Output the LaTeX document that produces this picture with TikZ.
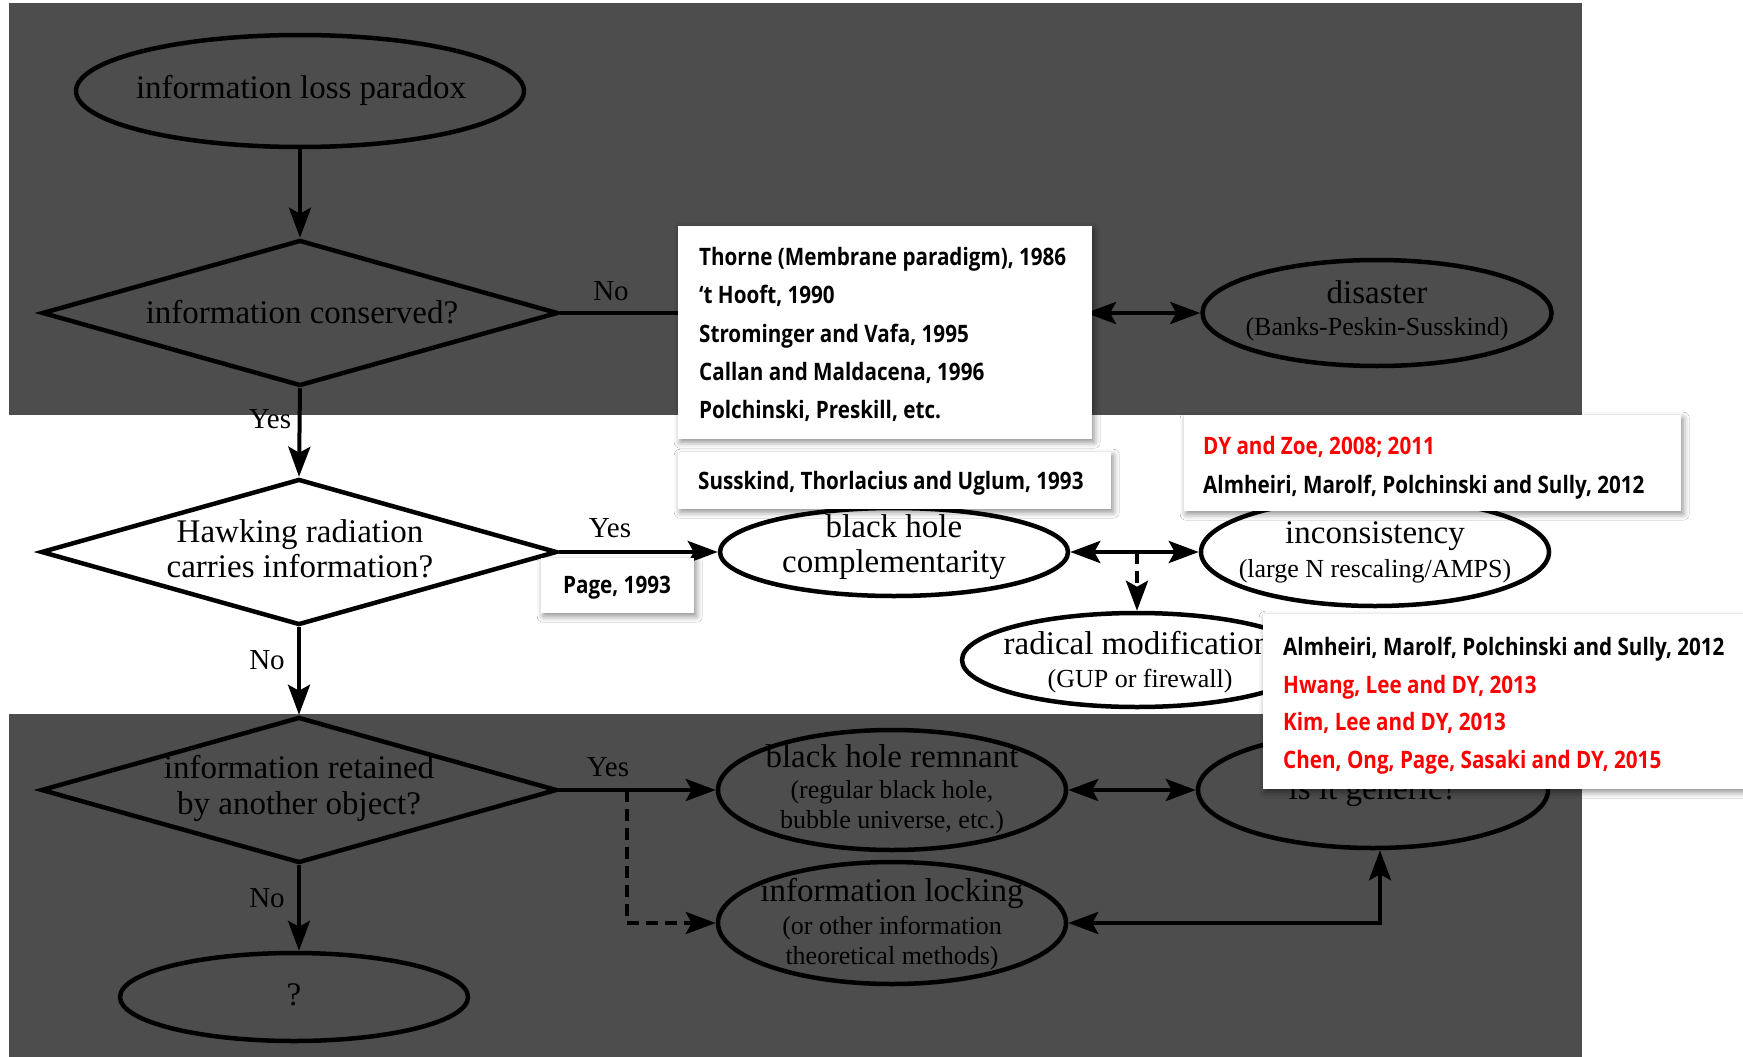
\documentclass[tikz,border=0pt]{standalone}
\usepackage{fontspec}
\setmainfont{Liberation Serif}
\newfontfamily\citefont{Open Sans}[FakeStretch=0.86]
\usetikzlibrary{shapes.geometric, arrows.meta, shadows.blur}
\definecolor{bandgray}{RGB}{77,77,77}
\definecolor{refred}{RGB}{255,0,0}
\newcommand\mainsz{\fontsize{33}{38}\selectfont}
\newcommand\subsz{\fontsize{26}{30}\selectfont}
\newcommand\lblsz{\fontsize{29}{34}\selectfont}
\newcommand\refsz{\citefont\bfseries\fontsize{24}{28}\selectfont}
\begin{document}
\begin{tikzpicture}[x=1pt, y=-1pt,
  flow/.style={line width=4pt},
  arr/.style={flow, -{Stealth[length=30pt, width=22pt, inset=6pt]}},
  darr/.style={flow, {Stealth[length=30pt, width=22pt, inset=6pt]}-{Stealth[length=30pt, width=22pt, inset=6pt]}},
  dashedarr/.style={arr, dash pattern=on 12pt off 7pt},
  ell/.style={ellipse, draw, line width=4.5pt, inner sep=0pt},
  dia/.style={diamond, draw, line width=4.5pt, inner sep=0pt, minimum width=516pt, minimum height=146pt},
  main/.style={font=\mainsz, anchor=base, inner sep=0pt},
  sub/.style={font=\subsz, anchor=base, inner sep=0pt},
  lbl/.style={font=\lblsz, anchor=base, inner sep=0pt},
  refbox/.style={fill=white, inner sep=0pt, anchor=north west,
    blur shadow={shadow xshift=2pt, shadow yshift=-3pt, shadow blur radius=6pt, shadow opacity=45}},
  ref/.style={font=\refsz, anchor=base west, inner sep=0pt},
  refhot/.style={ref, text=refred},
]
\useasboundingbox (0,0) rectangle (1743,1057);
\fill[white] (0,0) rectangle (1743,1057);

% shaded bands
\fill[bandgray] (9,3) rectangle (1582,415);
\fill[bandgray] (9,714) rectangle (1582,1057);

% top row
\node[ell, minimum width=448pt, minimum height=112pt] (loss) at (300,91) {};
\node[main] (loss-t) at (301,99) {information loss paradox};
\node[dia] (cons) at (300,313) {};
\node[main] (cons-t) at (302,323) {information conserved?};
\node[ell, minimum width=349pt, minimum height=106pt] (dis) at (1377,313) {};
\node[main] (dis-t1) at (1377,303) {disaster};
\node[sub] (dis-t2) at (1377,335) {(Banks-Peskin-Susskind)};

% middle row
\node[dia] (hawk) at (299,552) {};
\node[main] (hawk-t1) at (300,542) {Hawking radiation};
\node[main] (hawk-t2) at (300,577) {carries information?};
\node[ell, minimum width=348pt, minimum height=88pt] (comp) at (894,552) {};
\node[main] (comp-t1) at (894,537) {black hole};
\node[main] (comp-t2) at (894,572) {complementarity};
\node[ell, minimum width=348pt, minimum height=108pt] (inc) at (1375,552) {};
\node[main] (inc-t1) at (1375,543) {inconsistency};
\node[sub] (inc-t2) at (1375,577) {(large N rescaling/AMPS)};
\node[ell, minimum width=350pt, minimum height=94pt] (rad) at (1137,660) {};
\node[main] (rad-t1) at (1137,654) {radical modification};
\node[sub] (rad-t2) at (1140,687) {(GUP or firewall)};

% bottom row
\node[dia] (ret) at (299,790) {};
\node[main] (ret-t1) at (299,778) {information retained};
\node[main] (ret-t2) at (299,814) {by another object?};
\node[ell, minimum width=348pt, minimum height=120pt] (rem) at (892,790) {};
\node[main] (rem-t1) at (892,767) {black hole remnant};
\node[sub] (rem-t2) at (892,798) {(regular black hole,};
\node[sub] (rem-t3) at (892,828) {bubble universe, etc.)};
\node[ell, minimum width=350pt, minimum height=116pt] (gen) at (1373,790) {};
\node[main] (gen-t) at (1373,799) {is it generic?};
\node[ell, minimum width=348pt, minimum height=122pt] (lock) at (892,923) {};
\node[main] (lock-t1) at (892,901) {information locking};
\node[sub] (lock-t2) at (892,934) {(or other information};
\node[sub] (lock-t3) at (892,964) {theoretical methods)};
\node[ell, minimum width=348pt, minimum height=88pt] (unk) at (294,997) {};
\node[main] (unk-t) at (294,1005) {?};

% connectors
\coordinate (nohide) at (720,313);
\coordinate (disfrom) at (1086,313);
\coordinate (split) at (1137,552);
\coordinate (branch) at (627,790);
\coordinate (bend) at (1380,923);
\draw[arr] (loss.south) -- (cons.north);
\draw[flow] (cons.east) -- (nohide);
\draw[darr] (disfrom) -- (dis.west);
\draw[arr] (cons.south) -- (hawk.north);
\draw[arr] (hawk.east) -- (comp.west);
\draw[darr] (comp.east) -- (inc.west);
\draw[dashedarr] (split) -- (rad.north);
\draw[arr] (hawk.south) -- (ret.north);
\draw[arr] (ret.east) -- (rem.west);
\draw[dashedarr] (branch) |- (lock.west);
\draw[arr] (ret.south) -- (ret.south |- unk.north);
\draw[darr] (rem.east) -- (gen.west);
\draw[darr] (lock.east) -- (bend) -- (bend |- gen.south);

% branch labels
\node[lbl] (no1) at (611,300) {No};
\node[lbl] (yes1) at (270,428) {Yes};
\node[lbl] (yes2) at (610,537) {Yes};
\node[lbl] (no2) at (267,669) {No};
\node[lbl] (yes3) at (608,776) {Yes};
\node[lbl] (no3) at (267,907) {No};

% reference boxes
\node[refbox, minimum width=414pt, minimum height=213pt] (boxA) at (678,226) {};
\node[ref] (a1) at (699,265) {Thorne (Membrane paradigm), 1986};
\node[ref] (a2) at (699,303) {‘t Hooft, 1990};
\node[ref] (a3) at (699,342) {Strominger and Vafa, 1995};
\node[ref] (a4) at (699,380) {Callan and Maldacena, 1996};
\node[ref] (a5) at (699,418) {Polchinski, Preskill, etc.};

\node[refbox, minimum width=433pt, minimum height=57pt] (boxB) at (678,452) {};
\node[ref] (b1) at (698,489) {Susskind, Thorlacius and Uglum, 1993};

\node[refbox, minimum width=153pt, minimum height=55pt] (boxC) at (541,558) {};
\node[ref, anchor=base] (c1) at (617,593) {Page, 1993};

\node[refbox, minimum width=497pt, minimum height=96pt] (boxD) at (1184,415) {};
\node[refhot] (d1) at (1203,454) {DY and Zoe, 2008; 2011};
\node[ref] (d2) at (1203,493) {Almheiri, Marolf, Polchinski and Sully, 2012};

\node[refbox, minimum width=500pt, minimum height=175pt] (boxE) at (1263,614) {};
\node[ref] (e1) at (1283,655) {Almheiri, Marolf, Polchinski and Sully, 2012};
\node[refhot] (e2) at (1283,693) {Hwang, Lee and DY, 2013};
\node[refhot] (e3) at (1283,730) {Kim, Lee and DY, 2013};
\node[refhot] (e4) at (1283,768) {Chen, Ong, Page, Sasaki and DY, 2015};
\end{tikzpicture}
\end{document}
